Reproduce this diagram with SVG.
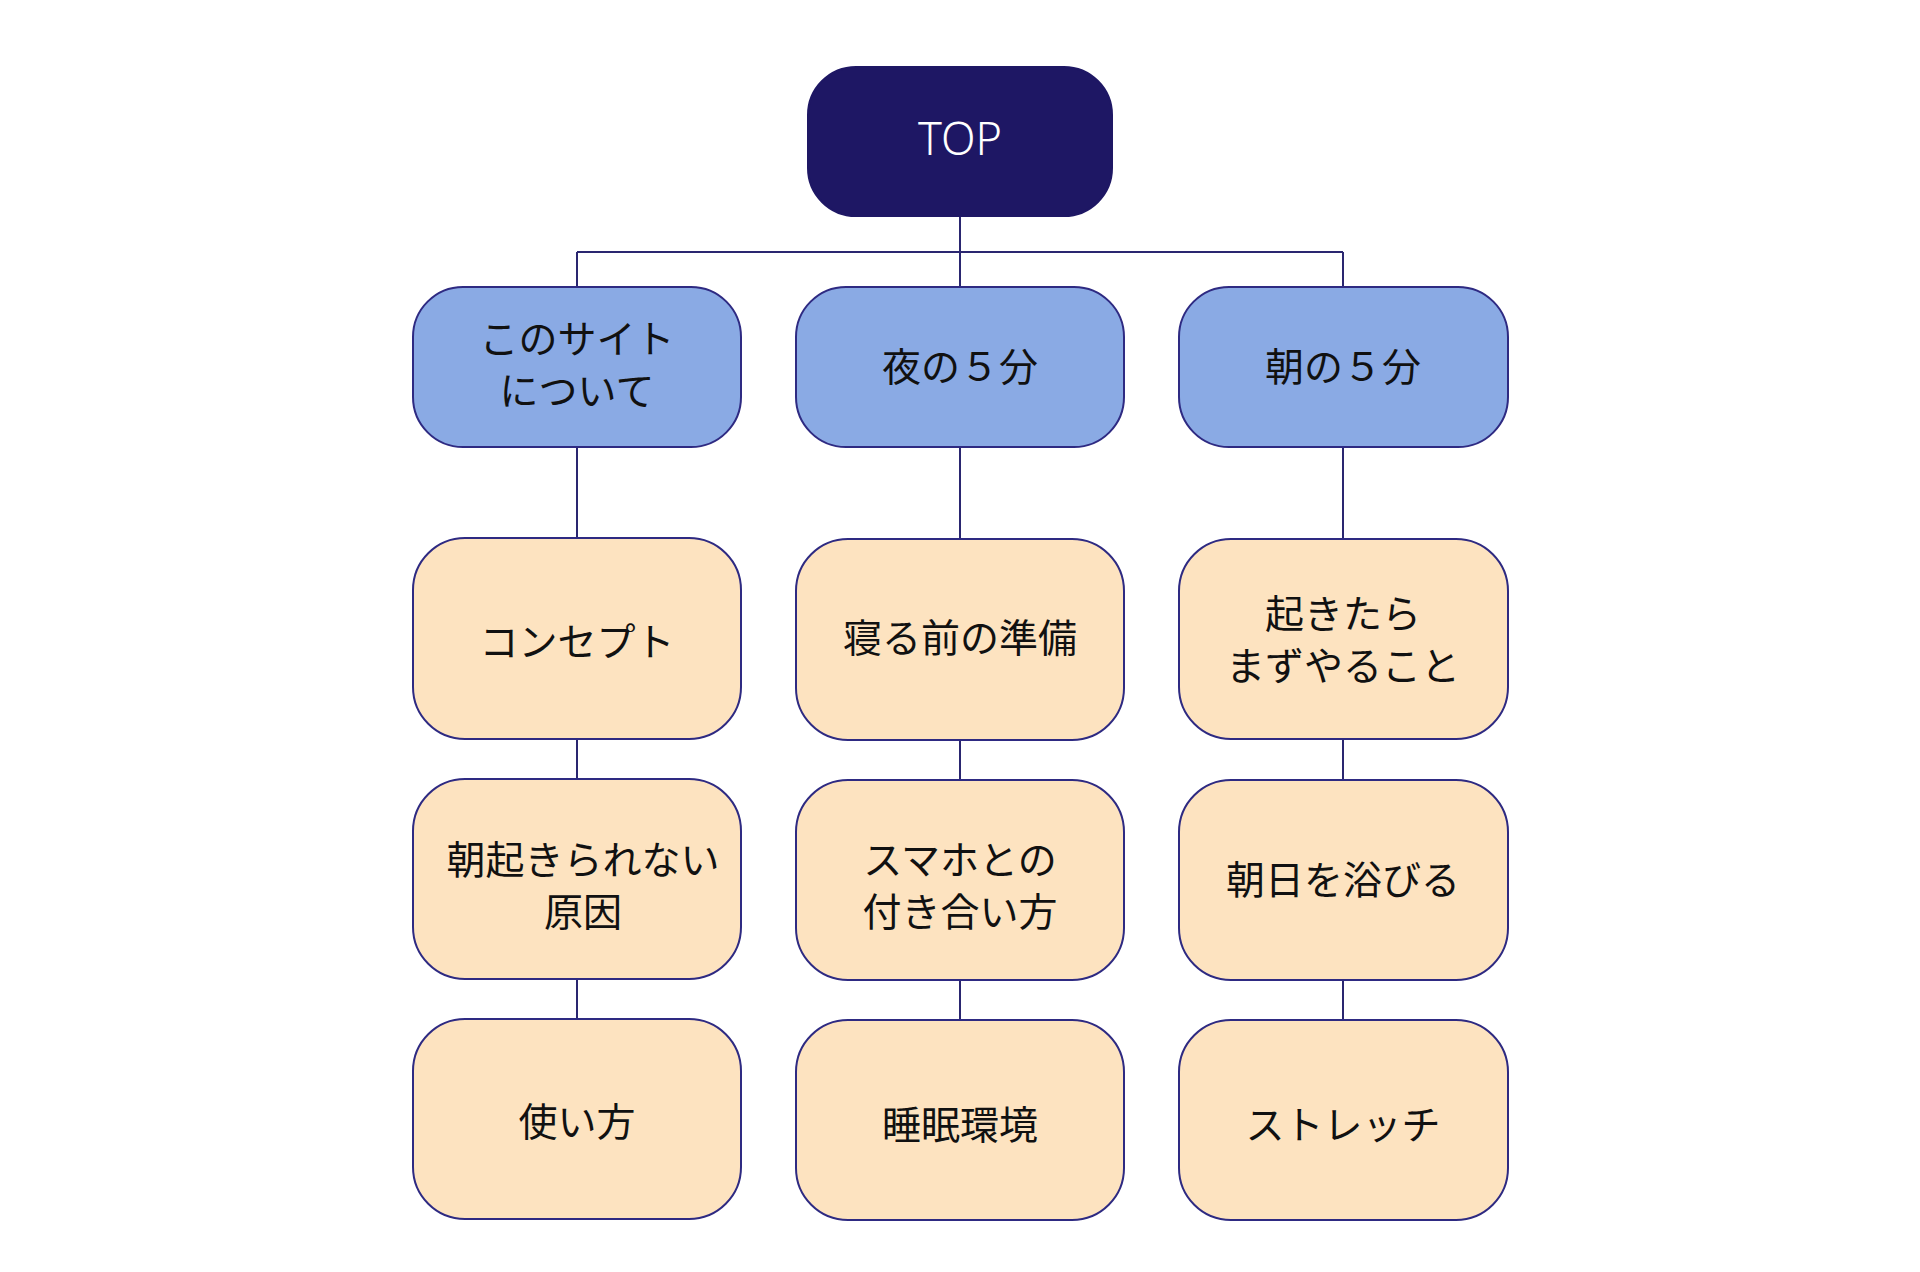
<svg xmlns="http://www.w3.org/2000/svg" width="1920" height="1272" viewBox="0 0 1920 1272">
<style>
.top{fill:#1e1764;stroke:#1e1764;stroke-width:2}
.sec{fill:#8aaae4;stroke:#2e2a82;stroke-width:2}
.pg{fill:#fde3c0;stroke:#2e2a82;stroke-width:2}
.t{font-family:"Noto Sans CJK JP","Noto Sans",sans-serif;font-size:39px;fill:#111;text-anchor:middle}
.tt{font-family:"Noto Sans","Noto Sans CJK JP",sans-serif;font-size:45px;font-weight:300;fill:#fff;text-anchor:middle}
.c{stroke:#2a2670;stroke-width:2;fill:none}
</style>
<rect width="1920" height="1272" fill="#fff"/>
<g id="connectors">
<path class="c" d="M960 216V287M577 252H1343M577 252V287M1343 252V287"/>
<path class="c" d="M577 447V538M577 739V779M577 979V1019"/>
<path class="c" d="M960 447V539M960 740V780M960 980V1020"/>
<path class="c" d="M1343 447V539M1343 739V780M1343 980V1020"/>
</g>
<g id="node-top"><rect class="top" x="808" y="67" width="304" height="149" rx="48"/><text class="tt" x="960" y="155">TOP</text></g>
<g id="node-about"><rect class="sec" x="413" y="287" width="328" height="160" rx="50"/><text class="t" x="577" y="353">このサイト</text><text class="t" x="577" y="405">について</text></g>
<g id="node-night"><rect class="sec" x="796" y="287" width="328" height="160" rx="50"/><text class="t" x="960" y="381">夜の５分</text></g>
<g id="node-morning"><rect class="sec" x="1179" y="287" width="329" height="160" rx="50"/><text class="t" x="1343" y="381">朝の５分</text></g>
<g id="node-concept"><rect class="pg" x="413" y="538" width="328" height="201" rx="52"/><text class="t" x="577" y="656">コンセプト</text></g>
<g id="node-cause"><rect class="pg" x="413" y="779" width="328" height="200" rx="52"/><text class="t" x="583" y="874">朝起きられない</text><text class="t" x="583" y="926">原因</text></g>
<g id="node-howto"><rect class="pg" x="413" y="1019" width="328" height="200" rx="52"/><text class="t" x="577" y="1136">使い方</text></g>
<g id="node-prepare"><rect class="pg" x="796" y="539" width="328" height="201" rx="52"/><text class="t" x="960" y="652">寝る前の準備</text></g>
<g id="node-phone"><rect class="pg" x="796" y="780" width="328" height="200" rx="52"/><text class="t" x="960" y="874">スマホとの</text><text class="t" x="960" y="926">付き合い方</text></g>
<g id="node-sleep"><rect class="pg" x="796" y="1020" width="328" height="200" rx="52"/><text class="t" x="960" y="1139">睡眠環境</text></g>
<g id="node-wakeup"><rect class="pg" x="1179" y="539" width="329" height="200" rx="52"/><text class="t" x="1343" y="628">起きたら</text><text class="t" x="1343" y="680">まずやること</text></g>
<g id="node-sun"><rect class="pg" x="1179" y="780" width="329" height="200" rx="52"/><text class="t" x="1343" y="894">朝日を浴びる</text></g>
<g id="node-stretch"><rect class="pg" x="1179" y="1020" width="329" height="200" rx="52"/><text class="t" x="1343" y="1139">ストレッチ</text></g>
</svg>
